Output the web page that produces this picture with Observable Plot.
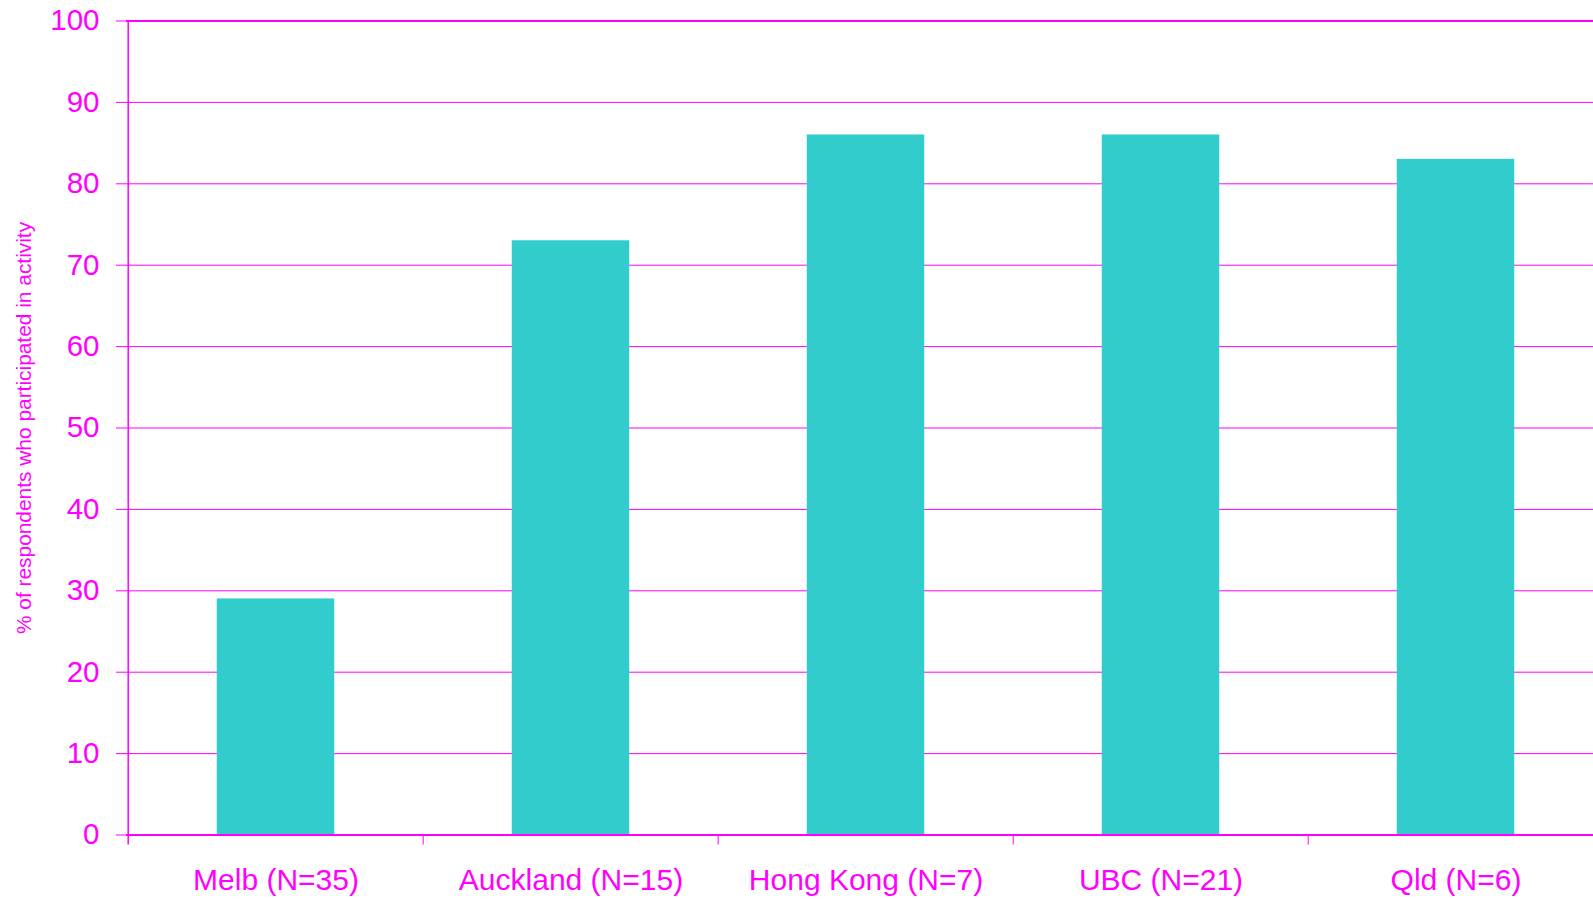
<!DOCTYPE html>
<html>
<head>
<meta charset="utf-8">
<script src="https://cdn.jsdelivr.net/npm/d3@7"></script>
<script src="https://cdn.jsdelivr.net/npm/@observablehq/plot@0.6"></script>
<style>
  html, body { margin: 0; padding: 0; background: #fff; }
  #chart { width: 1593px; height: 899px; overflow: hidden; }
</style>
</head>
<body>
<div id="chart"></div>
<script>
const categories = ["Melb (N=35)", "Auckland (N=15)", "Hong Kong (N=7)", "UBC (N=21)", "Qld (N=6)"];
const values = [29, 73, 86, 86, 83];
const yTicks = [0, 10, 20, 30, 40, 50, 60, 70, 80, 90, 100];
const yTitle = "% of respondents who participated in activity";

const data = categories.map((c, i) => ({category: c, value: values[i]}));
const MAG = "#ff00ff";
const BAR = "#33cccc";
const step = (1604 - 126) / categories.length;

const chart = Plot.plot({
  width: 1593,
  height: 899,
  marginLeft: 126,
  marginRight: 0,
  marginTop: 20.5,
  marginBottom: 64.5,
  style: {fontFamily: "'Liberation Sans', Arial, sans-serif", color: MAG, background: "#fff", overflow: "hidden"},
  x: {domain: categories, range: [126, 1604], padding: 0},
  y: {domain: [0, 100]},
  marks: [
    Plot.gridY(yTicks, {stroke: MAG, strokeOpacity: 1, strokeWidth: 1}),
    Plot.barY(data, {x: "category", y: "value", fill: BAR, insetLeft: 88.75, insetRight: 88.75}),
    Plot.ruleY([0, 100], {stroke: MAG, strokeWidth: 2}),
    Plot.ruleX([categories[0]], {x: d => d, dx: -step / 2, y1: 100, y2: 0, insetBottom: -10, stroke: MAG, strokeWidth: 1.5}),
    Plot.ruleX(categories.slice(1), {x: d => d, dx: -step / 2, y1: 0, y2: 0, insetBottom: -10, stroke: MAG, strokeWidth: 1}),
    Plot.axisY(yTicks, {tickSize: 10, tickPadding: 17, fontSize: 29.5, label: null, stroke: MAG, tickFormat: d => String(d)}),
    Plot.axisX({tickSize: 0, tickPadding: 34, fontSize: 30, label: null}),
    Plot.text([yTitle], {frameAnchor: "left", rotate: -90, dx: -102, dy: 0, fontSize: 20.9, fill: MAG, textAnchor: "middle"})
  ]
});
document.getElementById("chart").appendChild(chart);
</script>
</body>
</html>
